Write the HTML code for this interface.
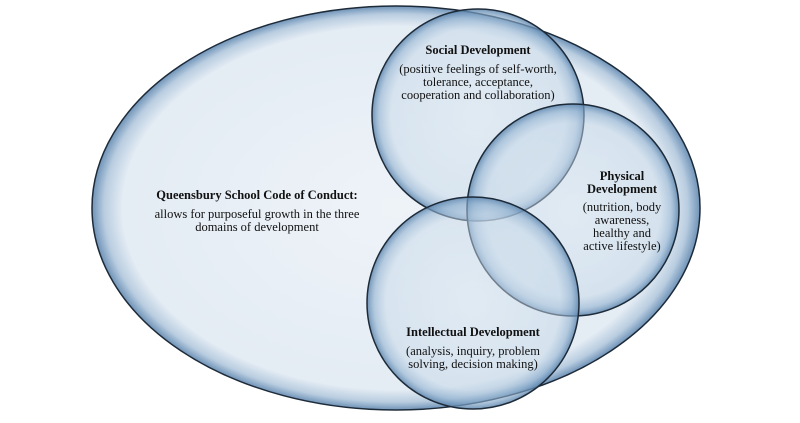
<!DOCTYPE html>
<html><head><style>
html,body{margin:0;padding:0;background:#fff;}
svg{display:block;}
text{font-family:"Liberation Serif",serif;font-size:12.5px;fill:#111;text-anchor:middle;}
.b{font-weight:bold;}
</style></head><body>
<svg width="800" height="423" viewBox="0 0 800 423">
<defs>
<radialGradient id="eg" cx="50%" cy="50%" r="50%">
<stop offset="0" stop-color="#eef3f8"/>
<stop offset="0.9" stop-color="#e4ecf4"/>
<stop offset="0.96" stop-color="#b9cde0"/>
<stop offset="1" stop-color="#6f93b8"/>
</radialGradient>
<radialGradient id="cg" cx="50%" cy="50%" r="50%">
<stop offset="0" stop-color="#d8e5f0" stop-opacity="0.45"/>
<stop offset="0.82" stop-color="#c6d8e8" stop-opacity="0.5"/>
<stop offset="0.93" stop-color="#8fb0cf" stop-opacity="0.6"/>
<stop offset="1" stop-color="#5b84ad" stop-opacity="0.85"/>
</radialGradient>
</defs>
<ellipse cx="396" cy="208" rx="304" ry="202" fill="url(#eg)" stroke="#1d2a38" stroke-width="1.5"/>
<circle cx="478" cy="115" r="106" fill="url(#cg)" stroke="#1d2a38" stroke-width="1.5"/>
<circle cx="573" cy="210" r="106" fill="url(#cg)" stroke="#1d2a38" stroke-width="1.5"/>
<circle cx="473" cy="303" r="106" fill="url(#cg)" stroke="#1d2a38" stroke-width="1.5"/>
<text x="478" y="54" class="b">Social Development</text>
<text x="478" y="73">(positive feelings of self-worth,</text>
<text x="478" y="86">tolerance, acceptance,</text>
<text x="478" y="99">cooperation and collaboration)</text>
<text x="622" y="180" class="b">Physical</text>
<text x="622" y="193" class="b">Development</text>
<text x="622" y="211">(nutrition, body</text>
<text x="622" y="224">awareness,</text>
<text x="622" y="237">healthy and</text>
<text x="622" y="250">active lifestyle)</text>
<text x="473" y="336" class="b">Intellectual Development</text>
<text x="473" y="355">(analysis, inquiry, problem</text>
<text x="473" y="368">solving, decision making)</text>
<text x="257" y="199" class="b">Queensbury School Code of Conduct:</text>
<text x="257" y="218">allows for purposeful growth in the three</text>
<text x="257" y="231">domains of development</text>
</svg>
</body></html>
